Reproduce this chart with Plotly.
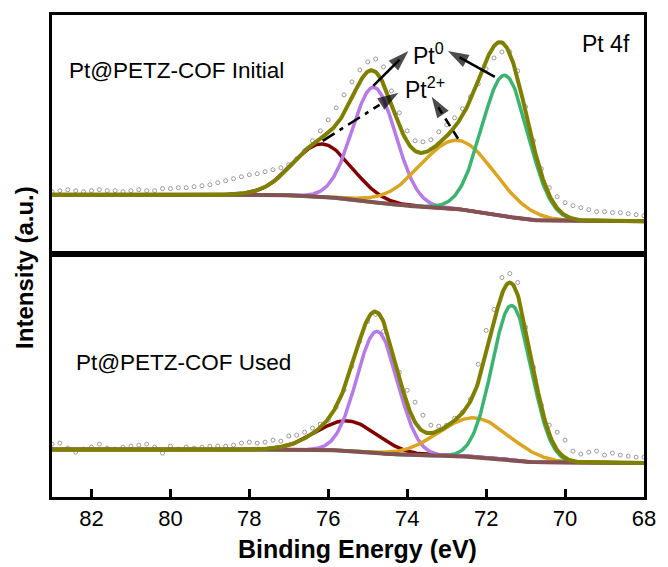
import numpy as np
import plotly.graph_objects as go

# ---------------- data ----------------
binding_energy = [83.0, 82.8, 82.6, 82.4, 82.2, 82.0, 81.8, 81.6, 81.4, 81.2,
                  81.0, 80.8, 80.6, 80.4, 80.2, 80.0, 79.8, 79.6, 79.4, 79.2,
                  79.0, 78.8, 78.6, 78.4, 78.2, 78.0, 77.8, 77.6, 77.4, 77.2,
                  77.0, 76.8, 76.6, 76.4, 76.2, 76.0, 75.8, 75.6, 75.4, 75.2,
                  75.0, 74.8, 74.6, 74.4, 74.2, 74.0, 73.8, 73.6, 73.4, 73.2,
                  73.0, 72.8, 72.6, 72.4, 72.2, 72.0, 71.8, 71.6, 71.4, 71.2,
                  71.0, 70.8, 70.6, 70.4, 70.2, 70.0, 69.8, 69.6, 69.4, 69.2,
                  69.0, 68.8, 68.6, 68.4, 68.2, 68.0]

initial_counts = [62, 63, 64, 63, 62, 63, 64, 63, 63, 62,
                  63, 64, 63, 63, 65, 65, 66, 66, 67, 68,
                  69, 71, 73, 75, 77, 79, 80, 82, 84, 86,
                  89, 95, 103, 113, 123, 134, 146, 159, 172, 184,
                  192, 195, 187, 163, 141, 123, 113, 112, 114, 122,
                  129, 136, 145, 157, 170, 185, 196, 202, 202, 183,
                  147, 113, 85, 66, 57, 51, 48, 46, 44, 42,
                  42, 41, 41, 40, 39, 38]

used_counts = [53, 54, 49, 45, 48, 50, 53, 49, 48, 50,
               51, 52, 53, 50, 44, 51, 48, 50, 49, 50,
               51, 51, 51, 52, 54, 55, 54, 55, 57, 56,
               61, 62, 65, 69, 73, 77, 90, 107, 131, 156,
               176, 183, 166, 144, 125, 107, 95, 82, 72, 71,
               72, 79, 85, 98, 133, 167, 188, 220, 224, 215,
               170, 130, 92, 72, 65, 57, 46, 43, 45, 46,
               42, 44, 42, 41, 40, 40]

# fitted components: Pt2+ 4f5/2, Pt0 4f5/2, Pt2+ 4f7/2, Pt0 4f7/2
component_colors = ["#800000", "#B67BE6", "#DAA520", "#3CB371"]
initial_centers = [76.15, 74.84, 72.72, 71.52]
initial_heights = [53, 115, 69, 141]
initial_fwhm = [1.75, 1.3, 2.2, 1.38]
initial_background = [32.5, 59.0]   # low-BE end, high-BE end

used_centers = [75.52, 74.76, 72.30, 71.35]
used_heights = [30, 122, 39, 155]
used_fwhm = [1.8, 1.21, 2.1, 1.17]
used_background = [34.0, 47.5]

x_ticks = [82, 80, 78, 76, 74, 72, 70, 68]

# arrows in the top panel: (tail, head, dash style)
arrow_list = [((74.86, 168), (73.97, 203), "solid"),
              ((71.78, 177), (72.97, 203), "solid"),
              ((76.14, 113), (74.22, 161), "14px,6px,4px,6px"),
              ((72.71, 115), (73.38, 157), "9px,6px")]

# ---------------- helpers ----------------
fit_grid = np.linspace(68.0, 83.0, 751)


def gaussian(x, c, h, w):
    return h * np.exp(-4.0 * np.log(2.0) * (x - c) ** 2 / w ** 2)


def build_fit(centers, heights, fwhms, bg_ends):
    comps = [gaussian(fit_grid, c, h, w) for c, h, w in zip(centers, heights, fwhms)]
    total = np.sum(comps, axis=0)
    cum = np.concatenate([[0.0], np.cumsum((total[1:] + total[:-1]) / 2 * np.diff(fit_grid))])
    bg = bg_ends[0] + (bg_ends[1] - bg_ends[0]) * cum / cum[-1]
    return comps, bg, bg + total


FONT = "Liberation Sans, Arial, sans-serif"
ENVELOPE = "#808000"
BG_COLOR = "#845252"
POINT_COLOR = "#9a9a9a"

fig = go.Figure()


def add_panel(counts, centers, heights, fwhms, bg_ends, xa, ya):
    comps, bg, env = build_fit(centers, heights, fwhms, bg_ends)
    fig.add_trace(go.Scatter(x=binding_energy, y=counts, mode="markers", xaxis=xa, yaxis=ya,
                             marker=dict(symbol="circle-open", size=4, color=POINT_COLOR,
                                         line=dict(width=1, color=POINT_COLOR))))
    for comp, col in zip(comps, component_colors):
        fig.add_trace(go.Scatter(x=fit_grid, y=bg + comp, mode="lines", xaxis=xa, yaxis=ya,
                                 line=dict(color=col, width=3.5)))
    fig.add_trace(go.Scatter(x=fit_grid, y=bg, mode="lines", xaxis=xa, yaxis=ya,
                             line=dict(color=BG_COLOR, width=4)))
    fig.add_trace(go.Scatter(x=fit_grid, y=env, mode="lines", xaxis=xa, yaxis=ya,
                             line=dict(color=ENVELOPE, width=4)))


add_panel(used_counts, used_centers, used_heights, used_fwhm, used_background, "x", "y")
add_panel(initial_counts, initial_centers, initial_heights, initial_fwhm, initial_background, "x2", "y2")

# arrows drawn as line traces with an arrow-head marker on the head point
for (tx, ty), (hx, hy), dash in arrow_list:
    f = 0.75
    mx, my = tx + f * (hx - tx), ty + f * (hy - ty)
    fig.add_trace(go.Scatter(x=[tx, mx], y=[ty, my], mode="lines", xaxis="x2", yaxis="y2",
                             line=dict(color="black", width=2.6, dash=dash),
                             hoverinfo="skip"))
    fig.add_trace(go.Scatter(x=[tx, hx], y=[ty, hy], mode="markers", xaxis="x2", yaxis="y2",
                             marker=dict(symbol="arrow", angleref="previous",
                                         size=[0, 22], color="black",
                                         line=dict(width=0)),
                             hoverinfo="skip"))

frame = dict(showline=True, linewidth=3, linecolor="black", mirror=True,
             showgrid=False, zeroline=False)

fig.update_layout(
    width=668, height=567,
    margin=dict(l=52, r=14, t=14, b=70),
    plot_bgcolor="white", paper_bgcolor="white",
    showlegend=False,
    font=dict(family=FONT, color="black"),
    xaxis=dict(domain=[0, 1], anchor="y", range=[83, 68], tickvals=x_ticks,
               ticks="inside", ticklen=8, tickwidth=2.5, tickcolor="black",
               tickfont=dict(size=22, family=FONT), **frame),
    yaxis=dict(domain=[0, 0.505], anchor="x", range=[0, 244], showticklabels=False,
               ticks="", **frame),
    xaxis2=dict(domain=[0, 1], anchor="y2", range=[83, 68], matches="x",
                showticklabels=False, ticks="", **frame),
    yaxis2=dict(domain=[0.505, 1], anchor="x2", range=[0, 239], showticklabels=False,
                ticks="", **frame),
)

ann = []
# panel labels
ann.append(dict(text="Pt@PETZ-COF Initial", x=82.61, y=183.5, xref="x2", yref="y2",
                xanchor="left", yanchor="middle", showarrow=False, font=dict(size=22.5)))
ann.append(dict(text="Pt@PETZ-COF Used", x=82.44, y=135.3, xref="x", yref="y",
                xanchor="left", yanchor="middle", showarrow=False, font=dict(size=22.5)))
ann.append(dict(text="Pt 4f", x=68.31, y=210, xref="x2", yref="y2",
                xanchor="right", yanchor="middle", showarrow=False, font=dict(size=23)))
ann.append(dict(text="Pt<sup>0</sup>", x=73.45, y=200, xref="x2", yref="y2",
                xanchor="center", yanchor="middle", showarrow=False, font=dict(size=23)))
ann.append(dict(text="Pt<sup>2+</sup>", x=73.55, y=166, xref="x2", yref="y2",
                xanchor="center", yanchor="middle", showarrow=False, font=dict(size=23)))

# axis titles
ann.append(dict(text="<b>Intensity (a.u.)</b>", textangle=-90, xref="paper", yref="paper",
                x=(24 - 52) / 602, y=(497 - 267) / 483, xanchor="center", yanchor="middle",
                showarrow=False, font=dict(size=24)))
ann.append(dict(text="<b>Binding Energy (eV)</b>", xref="paper", yref="paper",
                x=(362.6 - 52) / 602, y=-(549 - 497) / 483, xanchor="center", yanchor="middle",
                showarrow=False, font=dict(size=25)))

fig.update_layout(annotations=ann)
fig.write_html("out.html")
